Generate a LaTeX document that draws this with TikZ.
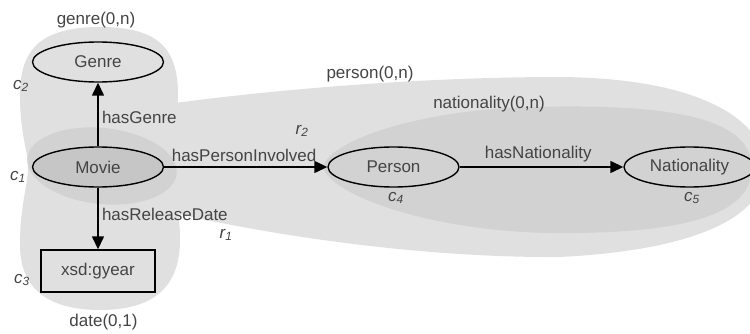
\documentclass[tikz,border=0pt]{standalone}
\usepackage{fontspec}
\setmainfont{Liberation Sans}
\usetikzlibrary{positioning,arrows.meta,shapes.geometric}

\definecolor{zonelight}{HTML}{E0E0E0}
\definecolor{zonedark}{HTML}{D2D2D2}
\definecolor{nodedark}{HTML}{C6C6C6}
\definecolor{txtgray}{HTML}{444444}

\begin{document}
\begin{tikzpicture}[x=1pt,y=-1pt,font=\fontsize{17}{20}\selectfont,text=txtgray,
  cls/.style={draw=black,ellipse,line width=1.4pt,minimum width=131pt,minimum height=40pt,inner sep=0pt},
  lit/.style={draw=black,line width=1.4pt,minimum width=114pt,minimum height=42pt,inner sep=0pt},
  rel/.style={-{Triangle[length=13pt,width=12pt]},line width=1.4pt},
  tag/.style={font=\fontsize{17}{20}\selectfont\itshape}]

\useasboundingbox (0,0) rectangle (750,334);

% zones
\fill[zonelight] (140,108) .. controls (260,90) and (420,77) .. (560,77)
  .. controls (700,78) and (765,120) .. (765,168)
  .. controls (765,215) and (700,250) .. (560,257)
  .. controls (420,258) and (260,235) .. (140,205) -- cycle;
\fill[zonelight] (100,27) .. controls (160,27) and (178,50) .. (178,95)
  .. controls (178,135) and (172,150) .. (172,168)
  .. controls (172,190) and (180,205) .. (180,240)
  .. controls (180,290) and (150,310) .. (100,310)
  .. controls (50,310) and (20,290) .. (20,245)
  .. controls (20,205) and (28,185) .. (28,168)
  .. controls (28,150) and (20,135) .. (20,95)
  .. controls (20,50) and (40,27) .. cycle;
\fill[zonedark,rotate around={-6:(102,166)}] (102,166) ellipse [x radius=75, y radius=38];
\fill[zonedark] (323,167) .. controls (330,140) and (420,110) .. (530,107)
  .. controls (650,104) and (752,112) .. (752,168)
  .. controls (752,222) and (660,234) .. (550,233)
  .. controls (430,231) and (330,195) .. cycle;

% classes
\node[cls,fill=nodedark] (movie) at (98,167) {Movie};
\node[cls]  (genre)  [on grid,above=105pt of movie]  {Genre};
\node[lit]  (gyear)  [on grid,below=104pt of movie]  {xsd:gyear};
\node[cls]  (person) [on grid,right=295.5pt of movie] {Person};
\node[cls]  (nation) [on grid,right=296pt of person] {Nationality};

% relations
\draw[rel] (movie) -- node[anchor=west,pos=0.45] (hasgenre) {hasGenre} (genre);
\draw[rel] (movie) -- node[anchor=west,pos=0.44] (hasdate) {hasReleaseDate} (gyear);
\draw[rel] (movie) -- node[above,pos=0.49,yshift=1pt] (hasperson) {hasPersonInvolved} (person);
\draw[rel] (person) -- node[above,pos=0.48,yshift=1pt] (hasnation) {hasNationality} (nation);

% tags
\node[tag] (c1) at (18,177) {c\textsubscript{1}};
\node[tag] (c2) at (21,86)  {c\textsubscript{2}};
\node[tag] (c3) at (22,280) {c\textsubscript{3}};
\node[tag] (c4) at (396,198) {c\textsubscript{4}};
\node[tag] (c5) at (692,198) {c\textsubscript{5}};
\node[tag] (r1) at (226,235) {r\textsubscript{1}};
\node[tag] (r2) at (302,131) {r\textsubscript{2}};

% zone names
\node (genrezone)  at (96,20)    {genre(0,n)};
\node (datezone)   at (103.5,322) {date(0,1)};
\node (personzone) at (370,74)   {person(0,n)};
\node (nationzone) at (489,104)  {nationality(0,n)};

\end{tikzpicture}
\end{document}
